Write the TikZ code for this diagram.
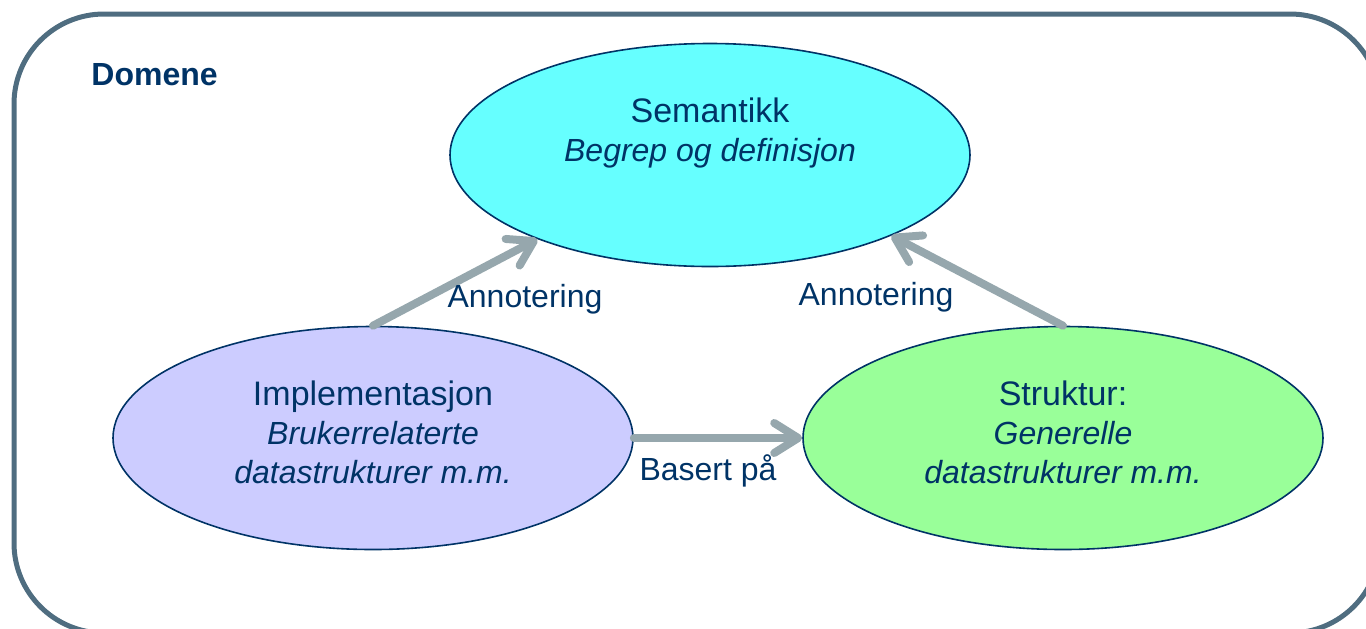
\documentclass[tikz,border=0pt]{standalone}
\usepackage{fontspec}
\setmainfont{Liberation Sans}
\usetikzlibrary{shapes.geometric,arrows.meta}
\definecolor{navy}{HTML}{003366}
\definecolor{framegray}{HTML}{4F6D80}
\definecolor{arrowgray}{HTML}{96A7AD}
\definecolor{semfill}{HTML}{66FFFF}
\definecolor{implfill}{HTML}{CCCCFF}
\definecolor{strfill}{HTML}{99FF99}
\tikzset{
  blob/.style={ellipse, draw=navy, line width=0.8pt, inner sep=0pt,
    minimum width=260pt, minimum height=111.5pt, text=navy, align=center},
  link/.style={draw=arrowgray, line width=4pt, line cap=round,
    -{Straight Barb[length=12pt,width=15pt,line cap=round,line join=round]}},
  lbl/.style={text=navy, font=\fontsize{16}{19.5}\selectfont}
}
\begin{document}
\begin{tikzpicture}[x=0.5pt,y=-0.5pt]
\useasboundingbox (0,0) rectangle (1366,628);
\clip (0,0) rectangle (1366,628);

% The domain frame runs off the right and bottom edges
\draw[framegray, line width=2.5pt, rounded corners=45pt] (14,14) rectangle (1380,633);
\node[text=navy, anchor=west, inner sep=0pt, font=\fontsize{16}{19}\selectfont\bfseries] (dom) at (91,75) {Domene};

% The three ellipses
\node[blob, fill=semfill] (sem) at (710,155) {};
\node[blob, fill=implfill] (impl) at (373,438) {};
\node[blob, fill=strfill] (str) at (1063,438) {};

% Their texts
\node[lbl, align=center] (semtxt) at (710,133)
  {{\fontsize{17}{19.5}\selectfont Semantikk}\\ \textit{Begrep og definisjon}};
\node[lbl, align=center] (impltxt) at (373,432)
  {{\fontsize{17}{19.5}\selectfont Implementasjon}\\ \textit{Brukerrelaterte}\\ \textit{datastrukturer m.m.}};
\node[lbl, align=center] (strtxt) at (1063,432)
  {{\fontsize{17}{19.5}\selectfont Struktur:}\\ \textit{Generelle}\\ \textit{datastrukturer m.m.}};

% Relations
\draw[link] (impl.north) -- (sem.206);
\draw[link] (str.north) -- (sem.336);
\draw[link] (impl.east) -- (str.west);

% Labels of the relations
\node[lbl] (ann1) at (525,299) {Annotering};
\node[lbl] (ann2) at (876,297) {Annotering};
\node[lbl] (bas) at (708,471) {Basert på};
\end{tikzpicture}
\end{document}
